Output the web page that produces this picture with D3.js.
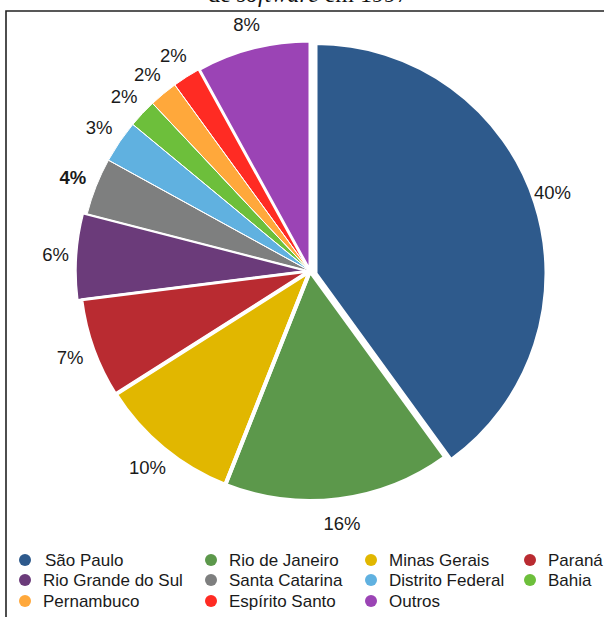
<!DOCTYPE html>
<html>
<head>
<meta charset="utf-8">
<script src="https://cdn.jsdelivr.net/npm/d3@7/dist/d3.min.js"></script>
<style>
  html, body { margin: 0; padding: 0; background: #fff; }
  svg { display: block; }
</style>
</head>
<body>
<svg id="chart" width="604" height="617"></svg>
<script>
// ---- data ----
const categories = ["São Paulo", "Rio de Janeiro", "Minas Gerais", "Paraná", "Rio Grande do Sul",
  "Santa Catarina", "Distrito Federal", "Bahia", "Pernambuco", "Espírito Santo", "Outros"];
const values = [40, 16, 10, 7, 6, 4, 3, 2, 2, 2, 8];
const labels = ["40%", "16%", "10%", "7%", "6%", "4%", "3%", "2%", "2%", "2%", "8%"];
const titleText = ["de ", "software", " em 1997"];

// ---- styles ----
const colors = ["#2e5a8c", "#5c984b", "#e1b700", "#b92b31", "#6b3b7a",
  "#7e7f7f", "#60b1e0", "#6dbf3b", "#ffa83b", "#ff2b23", "#9b44b5"];
const strokeW = [3, 4, 4, 3, 1.5, 1, 1, 1, 1, 1, 3];
const offsets = [[6, 2.5], [0, 0], [0, 0], [0, 0], [-4, 0], [0, 0], [0, 0], [0, 0], [0, 0], [0, 0], [0, 0]];
const boldLabels = ["Santa Catarina"];
const legendCols = [25, 211, 371, 530];
const legendRows = [560, 580, 601];

const svg = d3.select("#chart");
const cx = 310, cy = 271, R = 230, labelR = 255;

// frame
svg.append("path")
  .attr("d", "M6,700 L6,11 L700,11")
  .attr("fill", "none").attr("stroke", "#222").attr("stroke-width", 1.6);

// title (cropped at top, as in the reference)
const t = svg.append("text")
  .attr("x", 308).attr("y", 2)
  .attr("text-anchor", "middle")
  .attr("font-family", "'Liberation Serif', 'DejaVu Serif', serif")
  .attr("font-size", 24).attr("fill", "#111");
titleText.forEach((s, i) => {
  t.append("tspan").text(s).attr("font-style", i === 1 ? "italic" : "normal");
});

const data = categories.map((c, i) => ({ name: c, value: values[i], label: labels[i], i }));
const pie = d3.pie().sort(null).value(d => d.value).startAngle(0).endAngle(2 * Math.PI);
const arcs = pie(data);
const arc = d3.arc().innerRadius(0).outerRadius(R);

const g = svg.append("g").attr("transform", `translate(${cx},${cy})`);

// fills
g.selectAll("path.fill").data(arcs).enter().append("path")
  .attr("class", "fill")
  .attr("transform", d => `translate(${offsets[d.data.i][0]},${offsets[d.data.i][1]})`)
  .attr("d", arc)
  .attr("fill", d => colors[d.data.i]);

// white separators
g.selectAll("path.sep").data(arcs).enter().append("path")
  .attr("class", "sep")
  .attr("transform", d => `translate(${offsets[d.data.i][0]},${offsets[d.data.i][1]})`)
  .attr("d", arc)
  .attr("fill", "none")
  .attr("stroke", "#fff")
  .attr("stroke-linejoin", "round")
  .attr("stroke-width", d => strokeW[d.data.i]);

// percentage labels
const labelArc = d3.arc().innerRadius(labelR).outerRadius(labelR);
g.selectAll("text.lab").data(arcs).enter().append("text")
  .attr("class", "lab")
  .attr("transform", d => `translate(${labelArc.centroid(d)})`)
  .attr("text-anchor", "middle")
  .attr("dominant-baseline", "central")
  .attr("font-family", "'Liberation Sans', Arial, sans-serif")
  .attr("font-size", 18.5)
  .attr("font-weight", d => boldLabels.includes(d.data.name) ? "bold" : "normal")
  .attr("fill", "#1a1a1a")
  .text(d => d.data.label);

// legend
const lg = svg.append("g");
const items = lg.selectAll("g.item").data(data).enter().append("g")
  .attr("class", "item")
  .attr("transform", (d, k) => `translate(${legendCols[k % 4]},${legendRows[Math.floor(k / 4)]})`);
items.append("circle").attr("r", 6).attr("fill", d => colors[d.i]);
items.append("text")
  .attr("x", (d, k) => k === 0 ? 20 : 18)
  .attr("dominant-baseline", "central")
  .attr("font-family", "'Liberation Sans', Arial, sans-serif")
  .attr("font-size", 17)
  .attr("fill", "#1a1a1a")
  .text(d => d.name);
</script>
</body>
</html>
